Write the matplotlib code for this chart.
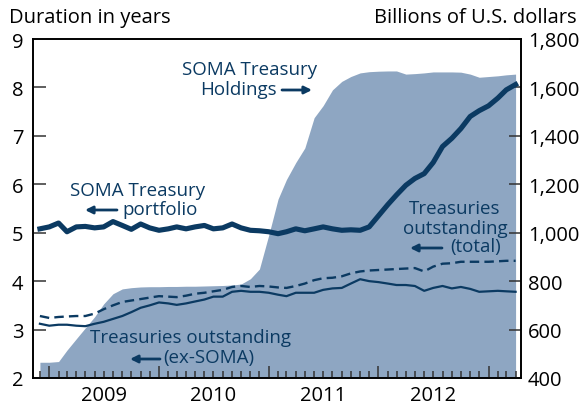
import numpy as np
import pandas as pd
import matplotlib
matplotlib.use("Agg")
import matplotlib.pyplot as plt
from matplotlib.transforms import blended_transform_factory

plt.rcParams['font.family'] = ['Open Sans', 'DejaVu Sans']

# monthly observations, Dec 2008 - Apr 2013
dates = pd.date_range('2008-12-01', periods=53, freq='MS')

# SOMA Treasury holdings, billions of U.S. dollars (right axis)
soma_holdings = [465, 465, 468, 515, 562, 607, 653, 706, 748, 768,
                 773, 776, 777, 777, 778, 778, 779, 779, 780, 781,
                 782, 784, 788, 810, 850, 990, 1139, 1220, 1290, 1350,
                 1475, 1525, 1590, 1625, 1645, 1660, 1665, 1667, 1668, 1668,
                 1655, 1657, 1660, 1664, 1664, 1664, 1663, 1655, 1642, 1645,
                 1648, 1652, 1655]

# duration in years (left axis)
soma_duration = [5.08, 5.12, 5.20, 5.02, 5.12, 5.13, 5.10, 5.12, 5.23, 5.15,
                 5.07, 5.18, 5.10, 5.05, 5.08, 5.12, 5.08, 5.12, 5.15, 5.08,
                 5.10, 5.18, 5.10, 5.05, 5.04, 5.02, 4.98, 5.02, 5.08, 5.04,
                 5.08, 5.12, 5.08, 5.05, 5.06, 5.05, 5.12, 5.35, 5.58, 5.78,
                 5.98, 6.12, 6.22, 6.45, 6.78, 6.95, 7.15, 7.40, 7.52, 7.62,
                 7.78, 7.95, 8.06]

total_duration = [3.28, 3.24, 3.26, 3.27, 3.28, 3.28, 3.33, 3.42, 3.50, 3.57,
                  3.60, 3.63, 3.66, 3.69, 3.68, 3.67, 3.70, 3.74, 3.76, 3.79,
                  3.82, 3.88, 3.90, 3.88, 3.90, 3.89, 3.87, 3.86, 3.90, 3.95,
                  4.02, 4.06, 4.07, 4.10, 4.16, 4.20, 4.22, 4.23, 4.24, 4.25,
                  4.26, 4.27, 4.20, 4.30, 4.36, 4.37, 4.40, 4.40, 4.40, 4.40,
                  4.41, 4.42, 4.42]

exsoma_duration = [3.12, 3.08, 3.10, 3.10, 3.08, 3.07, 3.12, 3.16, 3.22, 3.28,
                   3.36, 3.45, 3.50, 3.56, 3.54, 3.51, 3.54, 3.58, 3.62, 3.68,
                   3.68, 3.78, 3.80, 3.78, 3.78, 3.76, 3.72, 3.69, 3.76, 3.76,
                   3.76, 3.82, 3.85, 3.86, 3.95, 4.04, 4.00, 3.98, 3.95, 3.92,
                   3.92, 3.90, 3.80, 3.86, 3.90, 3.85, 3.88, 3.84, 3.78, 3.79,
                   3.80, 3.79, 3.78]

years = [2009, 2010, 2011, 2012]
left_ticks = [2, 3, 4, 5, 6, 7, 8, 9]
right_ticks = [400, 600, 800, 1000, 1200, 1400, 1600, 1800]

navy = '#0b3a62'
area_col = '#8ea6c2'
fs_tick = 14.5
fs_lab = 13.5

W, H = 582, 406
fig = plt.figure(figsize=(W / 100, H / 100), dpi=100)
ax = fig.add_axes([33 / W, 1 - 379 / H, (521 - 33) / W, (379 - 40) / H])
ax2 = ax.twinx()
ax.set_zorder(ax2.get_zorder() + 1)
ax.patch.set_visible(False)

# area on the right axis
ax2.fill_between(dates, 400, soma_holdings, color=area_col, lw=0)
ax2.set_ylim(400, 1800)
ax2.set_yticks(right_ticks)
ax2.set_yticklabels([f'{v:,}' for v in right_ticks])

# duration lines on the left axis
ax.plot(dates, soma_duration, color=navy, lw=3.7)
ax.plot(dates, total_duration, color=navy, lw=1.7, dashes=(4, 2.2))
ax.plot(dates, exsoma_duration, color=navy, lw=1.6)
ax.set_ylim(2, 9)
ax.set_yticks(left_ticks)

ax.set_xlim(pd.Timestamp('2008-11-08'), pd.Timestamp('2013-04-19'))
ax.set_xticks(pd.date_range('2009-01-01', '2013-01-01', freq='YS'))
ax.set_xticks(pd.date_range('2008-12-01', '2013-04-01', freq='MS'), minor=True)
ax.set_xticklabels([])
tr = blended_transform_factory(ax.transData, ax.transAxes)
for y in years:
    ax.text(pd.Timestamp(f'{y}-07-01'), -0.022, str(y), transform=tr,
            ha='center', va='top', fontsize=fs_tick, color='black')

for a in (ax, ax2):
    for s in a.spines.values():
        s.set_linewidth(1.2)
        s.set_color('black')
ax.tick_params(axis='y', direction='in', length=9, width=1.1, labelsize=fs_tick,
               pad=7, color='#333333')
ax2.tick_params(axis='y', direction='in', length=9, width=1.1, labelsize=fs_tick,
                pad=5, color='#333333')
ax.tick_params(axis='x', which='major', direction='in', length=9, width=1.1,
               color='#333333')
ax.tick_params(axis='x', which='minor', direction='in', length=5, width=1.1,
               color='#333333')
ax2.tick_params(axis='x', which='both', length=0)

fig.text(9 / W, 1 - 18 / H, 'Duration in years', fontsize=fs_tick, va='center')
fig.text(577 / W, 1 - 18 / H, 'Billions of U.S. dollars', fontsize=fs_tick,
         va='center', ha='right')


def px(x, y):
    return (x / W, 1 - y / H)


lab = dict(fontsize=fs_lab, color=navy, transform=fig.transFigure)
arr = dict(arrowstyle='-|>', color=navy, lw=2, mutation_scale=11,
           shrinkA=0, shrinkB=0)

# SOMA Treasury Holdings
fig.text(*px(250, 70), 'SOMA Treasury', ha='center', va='center', **lab)
fig.text(*px(277, 90), 'Holdings', ha='right', va='center', **lab)
ax.annotate('', xy=px(312, 91), xytext=px(282, 91), xycoords='figure fraction',
            arrowprops=arr)

# SOMA Treasury portfolio
fig.text(*px(138, 191), 'SOMA Treasury', ha='center', va='center', **lab)
fig.text(*px(122, 210), 'portfolio', ha='left', va='center', **lab)
ax.annotate('', xy=px(85, 211), xytext=px(117, 211), xycoords='figure fraction',
            arrowprops=arr)

# Treasuries outstanding (total)
fig.text(*px(455, 209), 'Treasuries', ha='center', va='center', **lab)
fig.text(*px(455, 229), 'outstanding', ha='center', va='center', **lab)
fig.text(*px(501, 247), '(total)', ha='right', va='center', **lab)
ax.annotate('', xy=px(410, 249), xytext=px(442, 249), xycoords='figure fraction',
            arrowprops=arr)

# Treasuries outstanding (ex-SOMA)
fig.text(*px(191, 338), 'Treasuries outstanding', ha='center', va='center', **lab)
fig.text(*px(163, 358), '(ex-SOMA)', ha='left', va='center', **lab)
ax.annotate('', xy=px(130, 360), xytext=px(160, 360), xycoords='figure fraction',
            arrowprops=arr)

fig.savefig('out.png', dpi=100)
